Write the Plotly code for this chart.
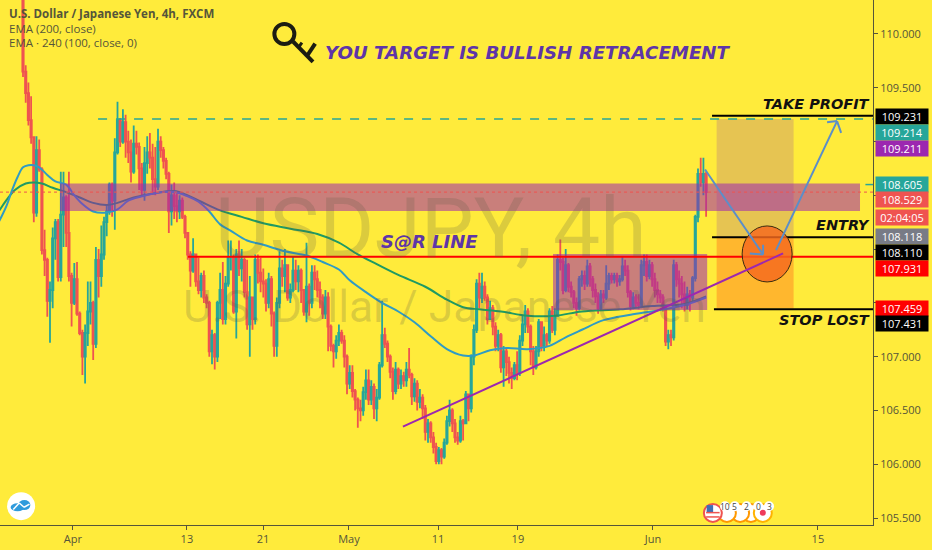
import plotly.graph_objects as go

BG = "#ffeb3b"
UP = "#26a69a"
DOWN = "#ef5350"
FIRST_OPEN = 110.40

closes = [
 109.65,109.45,109.20,109.04,108.34,108.92,108.74,107.99,107.90,107.52,
 107.62,108.10,108.25,107.74,108.32,108.48,108.15,107.75,107.50,107.72,
 107.40,107.22,107.00,107.22,107.42,107.50,107.12,107.90,107.75,107.95,
 108.25,108.35,108.60,108.45,108.90,109.20,109.00,109.18,109.00,108.90,
 108.72,108.98,108.95,108.75,108.55,108.80,108.90,108.85,108.65,108.58,
 109.00,108.92,108.82,108.70,108.35,108.50,108.40,108.35,108.45,108.30,
 108.15,107.95,107.80,107.95,107.70,107.62,107.75,107.55,107.50,107.05,
 107.20,107.00,107.50,107.62,107.35,107.68,107.92,107.92,107.42,107.95,
 107.82,107.90,107.60,107.30,107.55,107.35,107.90,107.78,107.70,107.68,
 107.50,107.72,107.40,107.10,107.50,107.82,107.75,107.85,107.55,107.62,
 107.80,107.70,107.80,107.62,107.42,107.65,107.50,107.78,107.72,107.62,
 107.55,107.40,107.55,107.28,107.10,107.05,107.15,107.22,107.15,107.00,
 106.75,106.85,106.68,106.60,106.52,106.50,106.67,106.78,106.60,106.72,
 106.52,106.62,106.92,107.20,107.12,107.00,106.86,106.68,106.88,106.75,
 106.82,106.78,106.88,106.83,106.63,106.75,106.58,106.62,106.52,106.30,
 106.38,106.25,106.16,106.03,106.13,106.07,106.20,106.40,106.50,106.38,
 106.25,106.22,106.40,106.38,106.65,106.52,107.00,107.25,107.68,107.55,
 107.65,107.55,107.35,107.45,107.28,107.10,107.20,106.90,107.05,106.95,
 106.85,106.80,106.92,106.85,107.15,107.30,107.42,107.28,107.05,106.90,
 107.05,107.32,107.10,107.20,107.15,107.42,107.25,107.38,107.90,107.88,
 107.62,107.85,107.65,107.60,107.50,107.45,107.72,107.75,107.68,107.84,
 107.72,107.62,107.56,107.45,107.58,107.55,107.68,107.75,107.72,107.75,
 107.70,107.72,107.84,107.80,107.60,107.47,107.55,107.50,107.48,107.85,
 107.88,107.75,107.85,107.72,107.62,107.58,107.55,107.47,107.14,107.20,
 107.18,107.85,107.72,107.68,107.58,107.48,107.58,107.55,107.73,108.30,
 108.70,108.62,108.70,108.53,
]
highs = [
 110.45,109.71,109.55,109.42,109.05,109.05,109.02,108.76,108.18,107.92,
 107.70,108.20,108.28,108.28,108.72,108.72,108.50,108.72,107.78,107.87,
 107.88,107.42,107.25,107.30,107.70,107.70,107.52,108.02,108.00,108.22,
 108.30,108.42,108.62,108.62,109.03,109.37,109.22,109.30,109.25,109.10,
 109.02,109.15,109.10,108.99,108.80,108.95,109.05,109.08,108.98,108.95,
 109.12,109.05,108.95,108.85,108.72,108.60,108.62,108.52,108.50,108.48,
 108.32,108.15,107.98,108.10,107.95,107.92,107.78,107.80,107.58,107.52,
 107.25,107.22,107.52,107.78,107.88,107.75,108.08,108.08,107.95,108.00,
 108.08,108.00,107.92,107.90,107.75,107.55,107.95,107.95,107.92,107.82,
 107.72,107.78,107.75,107.42,107.55,107.98,107.90,108.00,107.80,107.68,
 107.93,107.90,107.85,107.82,107.62,108.06,107.68,107.85,107.85,107.80,
 107.70,107.58,107.62,107.60,107.30,107.12,107.20,107.30,107.25,107.20,
 107.02,106.92,106.92,106.70,106.62,106.60,106.72,106.88,106.88,106.78,
 106.75,106.70,106.95,107.52,107.27,107.15,107.02,106.90,106.95,106.90,
 106.88,106.86,106.95,107.08,106.85,106.80,106.78,106.70,106.65,106.55,
 106.42,106.40,106.30,106.20,106.16,106.15,106.24,106.45,106.60,106.52,
 106.42,106.30,106.45,106.42,106.68,106.65,107.02,107.30,107.72,107.78,
 107.78,107.70,107.58,107.52,107.48,107.32,107.25,107.22,107.10,107.08,
 107.00,106.90,106.95,107.05,107.20,107.38,107.48,107.45,107.30,107.10,
 107.10,107.35,107.33,107.28,107.22,107.45,107.47,107.45,107.95,108.09,
 107.92,108.00,107.87,107.70,107.62,107.55,107.75,107.80,107.80,107.90,
 107.87,107.75,107.68,107.60,107.62,107.62,107.85,107.78,107.78,107.78,
 107.78,107.76,107.93,107.90,107.85,107.62,107.60,107.58,107.58,107.90,
 107.95,107.95,107.90,107.88,107.78,107.70,107.62,107.58,107.48,107.25,
 107.25,107.90,107.88,107.80,107.75,107.70,107.65,107.62,107.75,108.32,
 108.75,108.85,108.85,108.72,
]
lows = [
 109.60,109.36,109.15,108.98,108.25,108.30,108.72,107.95,107.75,107.37,
 107.13,107.45,107.90,107.70,107.70,108.02,108.02,107.70,107.28,107.48,
 107.38,107.20,106.83,106.75,107.10,107.30,106.97,107.08,107.55,107.65,
 107.90,108.12,108.32,108.30,108.18,108.88,108.95,108.98,108.85,108.80,
 108.62,108.70,108.88,108.55,108.50,108.45,108.70,108.75,108.52,108.50,
 108.55,108.85,108.75,108.65,108.15,108.22,108.28,108.25,108.28,108.28,
 108.10,107.90,107.65,107.78,107.65,107.58,107.55,107.50,107.45,107.00,
 106.93,106.88,106.95,107.35,107.30,107.30,107.65,107.80,107.40,107.17,
 107.75,107.70,107.55,107.25,107.00,107.25,107.30,107.68,107.60,107.55,
 107.42,107.45,107.28,107.00,107.00,107.45,107.65,107.60,107.52,107.50,
 107.60,107.62,107.60,107.50,107.38,107.32,107.38,107.45,107.62,107.55,
 107.45,107.35,107.35,107.05,107.05,106.90,106.98,107.10,107.12,106.90,
 106.65,106.70,106.62,106.50,106.34,106.40,106.45,106.60,106.55,106.55,
 106.42,106.40,106.60,106.90,107.08,106.95,106.80,106.60,106.65,106.70,
 106.70,106.72,106.72,106.80,106.55,106.58,106.50,106.52,106.42,106.22,
 106.20,106.20,106.10,106.00,106.00,106.00,106.05,106.18,106.35,106.30,
 106.20,106.18,106.20,106.22,106.38,106.40,106.48,106.92,107.22,107.45,
 107.50,107.52,107.30,107.35,107.20,107.05,107.05,106.85,106.72,106.82,
 106.75,106.70,106.78,106.78,106.82,107.10,107.22,107.22,106.92,106.83,
 106.88,107.00,107.05,107.05,107.10,107.12,107.22,107.20,107.42,107.80,
 107.58,107.60,107.60,107.55,107.45,107.38,107.43,107.65,107.62,107.65,
 107.65,107.55,107.50,107.40,107.43,107.50,107.53,107.62,107.68,107.68,
 107.65,107.66,107.70,107.75,107.55,107.43,107.44,107.46,107.44,107.45,
 107.75,107.70,107.72,107.65,107.55,107.50,107.50,107.42,107.10,107.07,
 107.10,107.15,107.65,107.55,107.45,107.42,107.44,107.42,107.50,107.70,
 108.25,108.58,108.50,108.30,
]
assert len(closes) == len(highs) == len(lows) == 254, (len(closes), len(highs), len(lows))
opens = [FIRST_OPEN] + closes[:-1]
bars = list(range(1, len(closes) + 1))

ema_fast_bar = [-8,-5,-3,-1,1,3,5,7,10,13,17,20,23,27,32,36,40,45,50,57,62,66,70,74,78,84,90,98,106,112,118,122,128,134,140,146,152,158,164,168,174,180,188,196,202,208,216,226,236,246,254]
ema_fast = [108.25,108.41,108.55,108.67,108.76,108.78,108.78,108.76,108.69,108.63,108.60,108.50,108.42,108.35,108.34,108.37,108.45,108.49,108.52,108.53,108.49,108.44,108.35,108.23,108.17,108.08,108.04,107.98,107.94,107.88,107.81,107.71,107.60,107.50,107.42,107.32,107.19,107.07,107.01,107.01,107.06,107.08,107.07,107.10,107.18,107.25,107.34,107.39,107.43,107.48,107.55]
ema_slow_bar = [-8,-5,-2,2,5,8,12,17,22,27,32,36,42,50,57,62,67,74,82,90,100,110,118,125,132,140,150,158,164,170,178,188,198,208,222,234,246,254]
ema_slow = [108.35,108.46,108.55,108.61,108.62,108.61,108.57,108.53,108.48,108.43,108.41,108.43,108.48,108.52,108.54,108.50,108.44,108.36,108.30,108.24,108.19,108.14,108.06,107.95,107.86,107.76,107.65,107.53,107.46,107.44,107.42,107.38,107.38,107.42,107.44,107.47,107.49,107.56]

x_tick_bars = [19.5, 61.7, 89.9, 121.7, 154.7, 184.3, 234.3, 295.4]
x_tick_text = ["Apr", "13", "21", "May", "11", "19", "Jun", "15"]
# labels at 109.000, 108.500, 108.000 and 107.500 sit under the price tags in the reference
y_tick_vals = [105.5, 106.0, 106.5, 107.0, 107.5, 108.0, 108.5, 109.0, 109.5, 110.0]
y_tick_text = ["105.500", "106.000", "106.500", "107.000", "", "", "", "", "109.500", "110.000"]

price_tags = [
 ("109.231", 109.23, "#000000"), ("109.214", 109.08, "#26a69a"), ("109.211", 108.94, "#9c27b0"),
 ("108.605", 108.60, "#26a69a"), ("108.529", 108.46, "#ef5350"), ("02:04:05", 108.29, "#ef5350"),
 ("108.118", 108.12, "#787b86"), ("108.110", 107.97, "#000000"), ("107.931", 107.82, "#ff0000"),
 ("107.459", 107.45, "#ff0000"), ("107.431", 107.31, "#000000"),
]
calendar_counts = [("10", 261.0), ("5", 264.6), ("2", 269.0), ("0", 273.3), ("3", 277.3)]

X0, X1 = -7.52, 315.81
Y0, Y1 = 105.435, 110.316

shapes = []
def rect(x0, x1, y0, y1, fill):
    shapes.append(dict(type="rect", x0=x0, x1=x1, y0=y0, y1=y1, fillcolor=fill, line_width=0))
def seg(x0, y0, x1, y1, color, width=2, dash="solid"):
    shapes.append(dict(type="line", x0=x0, y0=y0, x1=x1, y1=y1, line=dict(color=color, width=width, dash=dash)))
def dot(x, y, rx, ry, fill, line=None, lw=0):
    shapes.append(dict(type="circle", xsizemode="pixel", ysizemode="pixel", xanchor=x, yanchor=y,
                       x0=-rx, x1=rx, y0=-ry, y1=ry, fillcolor=fill, line=dict(color=line or fill, width=lw)))

# target / stop zones
rect(257.9, 286.4, 108.11, 109.21, "rgb(230,196,82)")
rect(257.9, 286.4, 107.45, 108.11, "rgb(255,183,46)")
# supply and range boxes
rect(14.7, 311.0, 108.355, 108.61, "rgba(156,39,176,0.55)")
rect(197.3, 254.4, 107.434, 107.955, "rgba(156,39,176,0.55)")
# levels
seg(28.8, 109.21, X1, 109.21, "#26a69a", 1.5, "dash")
seg(X0, 108.53, X1, 108.53, "#ef5350", 1, "dot")
seg(62.1, 107.93, X1, 107.93, "#ff0000", 2)
seg(256.2, 109.24, X1, 109.24, "#000000", 2)
seg(256.2, 108.11, X1, 108.11, "#000000", 2)
seg(256.9, 107.44, X1, 107.44, "#000000", 2)
seg(313.0, 108.60, X1, 108.60, "#26a69a", 1.5)
# circle on the entry zone
dot(276.6, 107.955, 25, 28, "rgba(245,105,30,0.82)", "#3a2a10", 1)
# trend line
seg(141.7, 106.35, 282.5, 107.96, "#9c27b0", 2)
# projected path arrows
ARROW = "#5b8ec9"
seg(253.6, 108.74, 275.1, 107.95, ARROW, 2)
seg(270.2, 107.96, 275.1, 107.95, ARROW, 2)
seg(275.1, 108.04, 275.1, 107.95, ARROW, 2)
seg(279.9, 107.99, 302.5, 109.19, ARROW, 2)
seg(298.8, 109.18, 302.5, 109.19, ARROW, 2)
seg(304.0, 109.08, 302.5, 109.19, ARROW, 2)
# key icon
dot(97.8, 110.00, 10, 10, "rgba(0,0,0,0)", "#1c1c12", 4)
seg(101.0, 109.93, 108.4, 109.74, "#1c1c12", 4)
seg(106.3, 109.80, 109.2, 109.91, "#1c1c12", 4)
seg(102.9, 109.87, 104.3, 109.92, "#1c1c12", 3)
# logo
dot(0.3, 105.61, 14, 14, "#ffffff")
dot(-1.0, 105.60, 7, 4, "#2f9bdc")
dot(1.5, 105.62, 6, 5, "#2f9bdc")
seg(-2.6, 105.58, -0.4, 105.64, "#ffffff", 1.5)
seg(-0.4, 105.64, 1.4, 105.60, "#ffffff", 1.5)
seg(1.4, 105.60, 3.4, 105.63, "#ffffff", 1.5)
# calendar badges
for bx in [270.6, 266.6, 261.7]:
    dot(bx, 105.547, 9, 9, "#ffffff", "#ff9800", 2)
dot(275.0, 105.547, 9, 9, "#ffffff", "#ffb300", 2)
dot(275.0, 105.55, 3, 3, "#ef3b5c")
dot(256.5, 105.547, 9, 9, "#ffffff", "#ef5350", 2)
rect(254.2, 256.6, 105.55, 105.62, "#3f6fb5")
seg(254.0, 105.51, 259.0, 105.51, "#ef5350", 1.5)
seg(254.0, 105.55, 259.0, 105.55, "#ef5350", 1.5)
for _, bx in calendar_counts:
    dot(bx, 105.61, 5, 5, "#ffffff")

annotations = []
def note(text, x, y, size, color, family="DejaVu Sans", weight="normal", style="normal", xanchor="center", yanchor="middle"):
    annotations.append(dict(text=text, x=x, y=y, xref="x", yref="y", showarrow=False, xanchor=xanchor, yanchor=yanchor,
                            font=dict(size=size, color=color, family=family, weight=weight, style=style)))

note("USDJPY, 4h", 152.0, 108.19, 84, "rgba(90,90,70,0.22)", "Roboto")
note("U.S. Dollar / Japanese Yen", 157.0, 107.46, 44.5, "rgba(90,90,70,0.22)", "Roboto")
note("YOU TARGET IS BULLISH RETRACEMENT", 188.0, 109.83, 18.2, "#5e35a8", weight="bold", style="italic")
note("S@R LINE", 151.6, 108.07, 18, "#5e35a8", weight="bold", style="italic")
note("TAKE PROFIT", 315.6, 109.35, 14.5, "#111111", weight="bold", style="italic", xanchor="right")
note("ENTRY", 315.6, 108.22, 14.5, "#111111", weight="bold", style="italic", xanchor="right")
note("STOP LOST", 315.6, 107.34, 14.5, "#111111", weight="bold", style="italic", xanchor="right")
note("U.S. Dollar / Japanese Yen, 4h, FXCM", -5.0, 110.19, 11.5, "#55553a", "Open Sans", weight="bold", xanchor="left")
note("EMA (200, close)", -5.0, 110.05, 11.5, "#55553a", "Open Sans", xanchor="left")
note("EMA · 240 (100, close, 0)", -5.0, 109.92, 11.5, "#55553a", "Open Sans", xanchor="left")
for label, bx in calendar_counts:
    note(label, bx, 105.61, 8.5, "#444444", "Open Sans")
for label, py, col in price_tags:
    annotations.append(dict(text=label, x=1.002, y=py, xref="paper", yref="y", xanchor="left", yanchor="middle",
                            showarrow=False, bgcolor=col, width=52, height=15, borderpad=0, align="center",
                            font=dict(size=11, color="#ffffff", family="Open Sans")))

fig = go.Figure()
fig.add_trace(go.Candlestick(
    x=bars, open=opens, high=highs, low=lows, close=closes,
    increasing=dict(line=dict(color=UP, width=1.8), fillcolor=UP),
    decreasing=dict(line=dict(color=DOWN, width=1.8), fillcolor=DOWN),
    whiskerwidth=0, showlegend=False,
))
fig.add_trace(go.Scatter(x=ema_slow_bar, y=ema_slow, mode="lines", line=dict(color="#1f9a63", width=2, shape="spline"), showlegend=False))
fig.add_trace(go.Scatter(x=ema_fast_bar, y=ema_fast, mode="lines", line=dict(color="#2f9bc4", width=2, shape="spline"), showlegend=False))

axis_col = "#55553a"
fig.update_layout(
    width=932, height=550, autosize=False,
    margin=dict(l=0, r=59, t=0, b=25),
    paper_bgcolor=BG, plot_bgcolor=BG,
    showlegend=False, shapes=shapes, annotations=annotations,
    xaxis=dict(range=[X0, X1], rangeslider=dict(visible=False), tickmode="array", tickvals=x_tick_bars, ticktext=x_tick_text,
               showgrid=False, zeroline=False, showline=True, linecolor=axis_col, linewidth=1,
               ticks="outside", ticklen=4, tickcolor=axis_col, tickfont=dict(size=11, color=axis_col, family="Open Sans")),
    yaxis=dict(range=[Y0, Y1], side="right", tickmode="array", tickvals=y_tick_vals, ticktext=y_tick_text,
               showgrid=False, zeroline=False, showline=True, linecolor=axis_col, linewidth=1,
               ticks="outside", ticklen=4, tickcolor=axis_col, tickfont=dict(size=11, color=axis_col, family="Open Sans")),
)
fig.write_html("out.html", config=dict(displayModeBar=False),
               post_script="document.body.style.margin='0';document.body.style.overflow='hidden';")
